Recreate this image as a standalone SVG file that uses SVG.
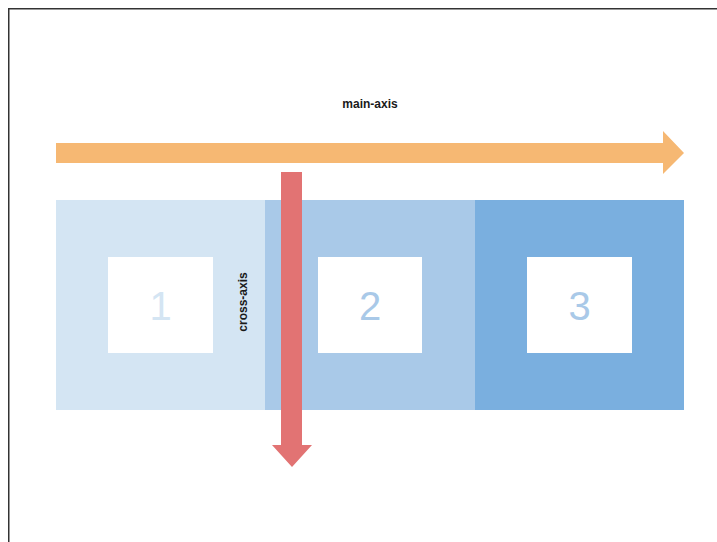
<svg xmlns="http://www.w3.org/2000/svg" width="717" height="542" viewBox="0 0 717 542">
<style>
.lbl{font-family:"Liberation Sans",Arial,sans-serif;font-weight:bold;font-size:12px;fill:#1a1a1a;text-anchor:middle}
.num{font-family:"Liberation Sans",Arial,sans-serif;font-size:40px;text-anchor:middle}
.box{fill:#ffffff}
</style>
<rect x="0" y="0" width="717" height="542" fill="#ffffff"/>
<rect x="8.75" y="8.75" width="720" height="545" fill="none" stroke="#333333" stroke-width="1.5"/>
<g id="item1">
<rect x="56" y="200" width="210" height="210" fill="#d4e5f3"/>
<rect class="box" x="108" y="257" width="105" height="96"/>
<text class="num" x="160.5" y="320" fill="#d4e5f3">1</text>
</g>
<g id="item2">
<rect x="265" y="200" width="210" height="210" fill="#a9c9e8"/>
<rect class="box" x="318" y="257" width="104" height="96"/>
<text class="num" x="370" y="320" fill="#a9c9e8">2</text>
</g>
<g id="item3">
<rect x="475" y="200" width="209" height="210" fill="#7aafdf"/>
<rect class="box" x="527" y="257" width="105" height="96"/>
<text class="num" x="579.5" y="320" fill="#a9c9e8">3</text>
</g>
<g id="connectors">
<g id="main-axis">
<polygon points="56,143 663,143 663,131 684,153 663,174 663,163 56,163" fill="#f6b873"/>
<text class="lbl" x="370" y="108">main-axis</text>
</g>
<g id="cross-axis">
<polygon points="281,172 302,172 302,445 312,445 292,467 272,445 281,445" fill="#e27373"/>
<text class="lbl" transform="translate(247,302) rotate(-90)">cross-axis</text>
</g>
</g>
</svg>
